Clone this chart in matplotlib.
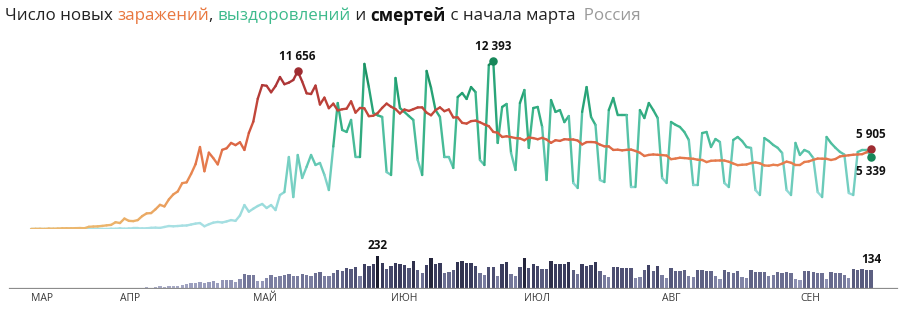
import numpy as np
import pandas as pd
import matplotlib
matplotlib.use('Agg')
from matplotlib import pyplot as plt
from matplotlib.collections import LineCollection
from matplotlib.colors import LinearSegmentedColormap, Normalize
from matplotlib.transforms import blended_transform_factory
import matplotlib.dates as mdates

plt.rcParams['font.family'] = ['Open Sans', 'DejaVu Sans']

# --- data: Russia, daily, 12 Mar .. 17 Sep 2020 ---
dates = pd.date_range('2020-03-12', '2020-09-17', freq='D')

cases = [
    # Mar 12-31
    6, 11, 14, 4, 30, 21, 33, 52, 54, 53, 61, 71, 57, 163, 182, 196, 228, 270, 302, 501,
    # Apr
    440, 771, 601, 582, 658, 954, 1154, 1175, 1459, 1786, 1667, 2186, 2558, 2774, 3388,
    3448, 4070, 4785, 6060, 4268, 5642, 5236, 4774, 5849, 5966, 6361, 6198, 6411, 5841, 7099,
    # May
    7933, 9623, 10633, 10581, 10102, 10559, 11231, 10699, 10817, 11012, 11656, 10899, 10028,
    9974, 10598, 9200, 9709, 8926, 9263, 8764, 8849, 8894, 9434, 8599, 8946, 8915, 8338,
    8371, 8572, 8952, 9268,
    # Jun
    9035, 8863, 8536, 8831, 8726, 8855, 8984, 8985, 8595, 8404, 8779, 8987, 8706, 8835, 8246,
    8248, 7843, 7790, 7972, 8007, 7889, 7728, 7600, 7176, 7113, 6800, 6852, 6791, 6719, 6693,
    # Jul
    6556, 6760, 6718, 6632, 6736, 6611, 6368, 6562, 6509, 6635, 6611, 6615, 6537, 6248, 6422,
    6428, 6406, 6234, 6109, 6104, 5842, 5862, 5811, 5848, 5871, 5765, 5635, 5395, 5475, 5509, 5482,
    # Aug
    5462, 5427, 5159, 5204, 5267, 5241, 5212, 5189, 5118, 5102, 4945, 5041, 5057, 5065, 5061,
    4969, 4839, 4718, 4748, 4767, 4870, 4921, 4852, 4696, 4676, 4744, 4711, 4829, 4980, 4897, 4729,
    # Sep 1-17
    4729, 4952, 4995, 5110, 5205, 5195, 5185, 5099, 5172, 5363, 5406, 5449, 5488, 5509, 5529, 5670, 5905,
]

recovered = [
    # Mar 12-31
    0, 0, 2, 0, 2, 0, 1, 1, 4, 3, 1, 5, 5, 0, 16, 22, 7, 2, 21, 16,
    # Apr
    50, 21, 40, 52, 52, 45, 51, 88, 99, 80, 150, 220, 200, 220, 250,
    260, 330, 400, 440, 200, 350, 470, 520, 480, 560, 660, 600, 1000, 1770, 1280,
    # May
    1500, 1700, 1850, 1550, 1770, 1400, 2510, 2730, 5320, 2360, 5470, 3770, 4600, 5470, 4730,
    4880, 4000, 2880, 6100, 9310, 7320, 7170, 8060, 5320, 5320, 12200, 10490, 8570, 8400, 8280, 4210,
    # Jun
    3990, 11160, 8940, 8650, 8350, 8060, 5100, 3990, 11680, 10420, 8790, 8280, 5320, 5320, 4510,
    9750, 10050, 9610, 10490, 10120, 5100, 4730, 12120, 12393, 6360, 9020, 9240, 5620, 4360, 9310,
    # Jul
    10270, 5990, 8940, 9020, 7540, 3620, 9530, 8650, 8790, 7900, 8350, 3400, 3030, 8650, 10490,
    8280, 7690, 3620, 3470, 8790, 9680, 8420, 8420, 8420, 3100, 3100, 8790, 8200, 9310, 8790, 8200,
    # Aug
    3770, 3400, 7910, 7700, 7540, 7170, 6580, 3250, 3250, 7090, 7170, 6060, 6650, 6430, 3400,
    3100, 6580, 6800, 6500, 6060, 5990, 2880, 2510, 6720, 6500, 6210, 6000, 5620, 2880, 2510, 6360,
    # Sep 1-17
    5470, 5840, 5690, 5250, 2730, 2360, 6800, 6350, 6000, 5700, 5500, 2660, 2510, 5690, 5840, 5840, 5339,
]

deaths = [
    # Mar 12-31
    0, 0, 0, 0, 0, 0, 0, 0, 0, 0, 0, 0, 0, 1, 1, 1, 0, 4, 1, 8,
    # Apr
    7, 6, 4, 9, 2, 2, 11, 5, 13, 18, 12, 24, 18, 22, 28,
    34, 41, 40, 48, 44, 51, 57, 42, 60, 66, 66, 47, 73, 105, 101,
    # May
    96, 53, 58, 76, 95, 86, 88, 98, 104, 88, 94, 107, 96, 93, 113,
    119, 94, 91, 115, 135, 127, 150, 139, 153, 92, 174, 161, 174, 232, 181, 138,
    # Jun
    162, 182, 178, 169, 144, 197, 134, 112, 171, 216, 174, 181, 113, 119, 134,
    193, 194, 182, 181, 161, 109, 95, 153, 154, 92, 176, 188, 104, 93, 152,
    # Jul
    216, 150, 176, 164, 138, 138, 199, 176, 176, 176, 192, 134, 105, 176, 162,
    169, 187, 127, 98, 87, 152, 157, 150, 150, 145, 80, 85, 133, 170, 128, 164,
    # Aug
    95, 80, 144, 129, 124, 130, 90, 85, 135, 130, 129, 125, 90, 70, 132,
    121, 114, 125, 85, 80, 130, 121, 122, 118, 88, 95, 117, 115, 117, 111, 70,
    # Sep 1-17
    60, 123, 129, 119, 110, 109, 67, 122, 110, 112, 101, 75, 137, 130, 138, 134, 134,
]

month_labels = ['МАР', 'АПР', 'МАЙ', 'ИЮН', 'ИЮЛ', 'АВГ', 'СЕН']
month_pos = pd.to_datetime(['2020-03-12', '2020-04-01', '2020-05-01', '2020-06-01',
                            '2020-07-01', '2020-08-01', '2020-09-01'])

x = mdates.date2num(dates)
x0 = mdates.date2num(pd.Timestamp('2020-04-01'))
xlim = (x0 - 27.0, x0 + 176.2)

cmap_cases = LinearSegmentedColormap.from_list(
    'cases', ['#ecb86e', '#e99a5a', '#e8814f', '#d65a40', '#bb4038', '#a53036'])
cmap_rec = LinearSegmentedColormap.from_list(
    'rec', ['#a9e0e4', '#93dad8', '#62c8b3', '#3db68d', '#24a073', '#18895a'])
cmap_deaths = LinearSegmentedColormap.from_list(
    'deaths', ['#b0b3cc', '#9497b8', '#6a6d90', '#3c3e60', '#1b1c2e'])


def grad_line(ax, xs, ys, cmap, vmax, lw=1.7):
    pts = np.column_stack([xs, ys]).reshape(-1, 1, 2)
    segs = np.concatenate([pts[:-1], pts[1:]], axis=1)
    mid = (np.asarray(ys[:-1], float) + np.asarray(ys[1:], float)) / 2
    lc = LineCollection(segs, cmap=cmap, norm=Normalize(0, vmax), linewidths=lw,
                        capstyle='round', joinstyle='round')
    lc.set_array(mid)
    ax.add_collection(lc)


fig = plt.figure(figsize=(9.03, 3.12), dpi=100)

# lines
ax = fig.add_axes([0, 83 / 312, 1, 189 / 312])
ax.set_xlim(*xlim)
ax.set_ylim(0, 13967)
ax.axis('off')
grad_line(ax, x, recovered, cmap_rec, 12400)
grad_line(ax, x, cases, cmap_cases, 11700)

i_c = int(np.argmax(cases))
i_r = int(np.argmax(recovered))
fmt = lambda v: f'{v:,}'.replace(',', ' ')
ax.scatter([x[i_c], x[-1]], [cases[i_c], cases[-1]], s=26, color='#9e2c31', zorder=5)
ax.scatter([x[i_r], x[-1]], [recovered[i_r], recovered[-1]], s=26, color='#17875a', zorder=5)
lab = dict(ha='center', fontsize=8.5, fontweight='bold', color='#111')
ax.annotate(fmt(cases[i_c]), (x[i_c], cases[i_c]), xytext=(0, 6), textcoords='offset points', va='bottom', **lab)
ax.annotate(fmt(recovered[i_r]), (x[i_r], recovered[i_r]), xytext=(0, 6), textcoords='offset points', va='bottom', **lab)
ax.annotate(fmt(cases[-1]), (x[-1], cases[-1]), xytext=(0, 6), textcoords='offset points', va='bottom', **lab)
ax.annotate(fmt(recovered[-1]), (x[-1], recovered[-1]), xytext=(0, -6), textcoords='offset points', va='top', **lab)

# deaths bars
ax2 = fig.add_axes([0, 23 / 312, 1, 49 / 312])
ax2.set_xlim(*xlim)
ax2.set_ylim(0, 344)
ax2.axis('off')
ax2.bar(x, deaths, width=0.75, color=cmap_deaths(Normalize(0, 232)(deaths)), zorder=2)
ax2.axhline(0, xmin=10 / 903, xmax=897 / 903, color='#8c8c8c', lw=1.6, zorder=3)
i_d = int(np.argmax(deaths))
ax2.annotate(str(deaths[i_d]), (x[i_d], deaths[i_d]), xytext=(0, 3), textcoords='offset points', va='bottom', **lab)
ax2.annotate(str(deaths[-1]), (x[-1], deaths[-1]), xytext=(0, 3), textcoords='offset points', va='bottom', **lab)

tr = blended_transform_factory(ax2.transData, ax2.transAxes)
for m, name in zip(mdates.date2num(month_pos), month_labels):
    ax2.text(m, -0.19, name, transform=tr, ha='left', va='center', fontsize=7.5, color='#3a3a3a')

# title, coloured in parts
parts = [('Число новых ', '#222', 'normal'), ('заражений', '#e8773e', 'normal'),
         (', ', '#222', 'normal'), ('выздоровлений', '#3dba8c', 'normal'),
         (' и ', '#222', 'normal'), ('смертей', '#111', 'bold'),
         (' с начала марта', '#222', 'normal'), ('  Россия', '#9a9a9a', 'normal')]
fig.canvas.draw()
r = fig.canvas.get_renderer()
px = 5
for s, c, w in parts:
    t = fig.text(px / 903, 1 - 16 / 312, s, color=c, fontweight=w, fontsize=12.2, va='center', ha='left')
    px = t.get_window_extent(r).x1

fig.savefig('out.png', dpi=100)
